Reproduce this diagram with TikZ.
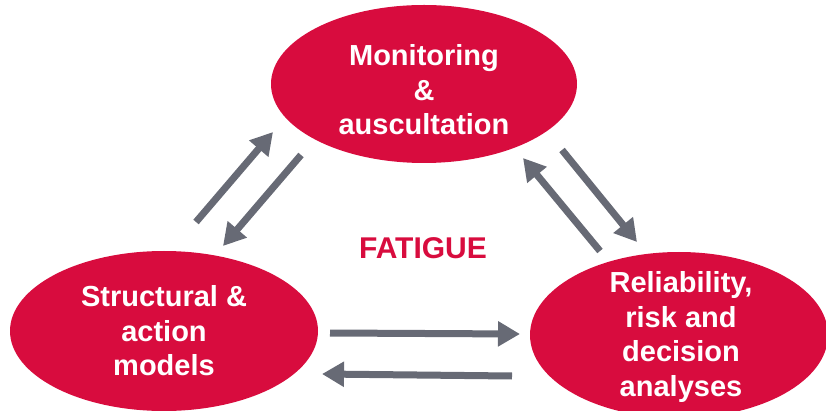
\documentclass[tikz,border=0pt]{standalone}
\usepackage{fontspec}
\setmainfont{Liberation Sans}
\usetikzlibrary{shapes.geometric,arrows.meta}
\definecolor{crim}{RGB}{216,12,62}
\definecolor{arrgray}{RGB}{103,106,117}
\tikzset{
  blob/.style={ellipse, fill=crim, draw=none, text=white, align=center,
    font=\bfseries\fontsize{29}{34.5}\selectfont, inner sep=0pt},
  blobtext/.style={text=white, align=center,
    font=\bfseries\fontsize{29}{34.5}\selectfont, inner sep=0pt},
  flow/.style={draw=arrgray, line width=7pt,
    -{Triangle[length=22pt,width=24pt]}}
}
\begin{document}
\begin{tikzpicture}[x=1pt,y=-1pt]
\useasboundingbox (0,0) rectangle (826,411);
\begin{scope}
\clip (0,0) rectangle (826,411);
\node[blob, minimum width=306pt, minimum height=158pt] (mon) at (424,84) {};
\node[blobtext] (monT) at (424,90) {Monitoring\\\&\\auscultation};
\node[blob, minimum width=308pt, minimum height=160pt] (str) at (164,331) {Structural \&\\action\\models};
\node[blob, minimum width=298pt, minimum height=166pt] (rel) at (679,335) {};
\node[blobtext] (relT) at (681,337) {Reliability,\\risk and\\decision\\analyses};
\end{scope}
\node[text=crim, font=\bfseries\fontsize{30}{34}\selectfont] (fat) at (423,248) {FATIGUE};
\coordinate (a1s) at (196,222); \coordinate (a1e) at (273,132);
\coordinate (a2s) at (301,155); \coordinate (a2e) at (223,246);
\coordinate (a3s) at (600,251); \coordinate (a3e) at (523,158);
\coordinate (a4s) at (562,150); \coordinate (a4e) at (637,242);
\coordinate (a5s) at (330,333); \coordinate (a5e) at (520,334);
\coordinate (a6s) at (512,376); \coordinate (a6e) at (322,374);
\draw[flow] (a1s) -- (a1e);
\draw[flow] (a2s) -- (a2e);
\draw[flow] (a3s) -- (a3e);
\draw[flow] (a4s) -- (a4e);
\draw[flow] (a5s) -- (a5e);
\draw[flow] (a6s) -- (a6e);
\end{tikzpicture}
\end{document}
